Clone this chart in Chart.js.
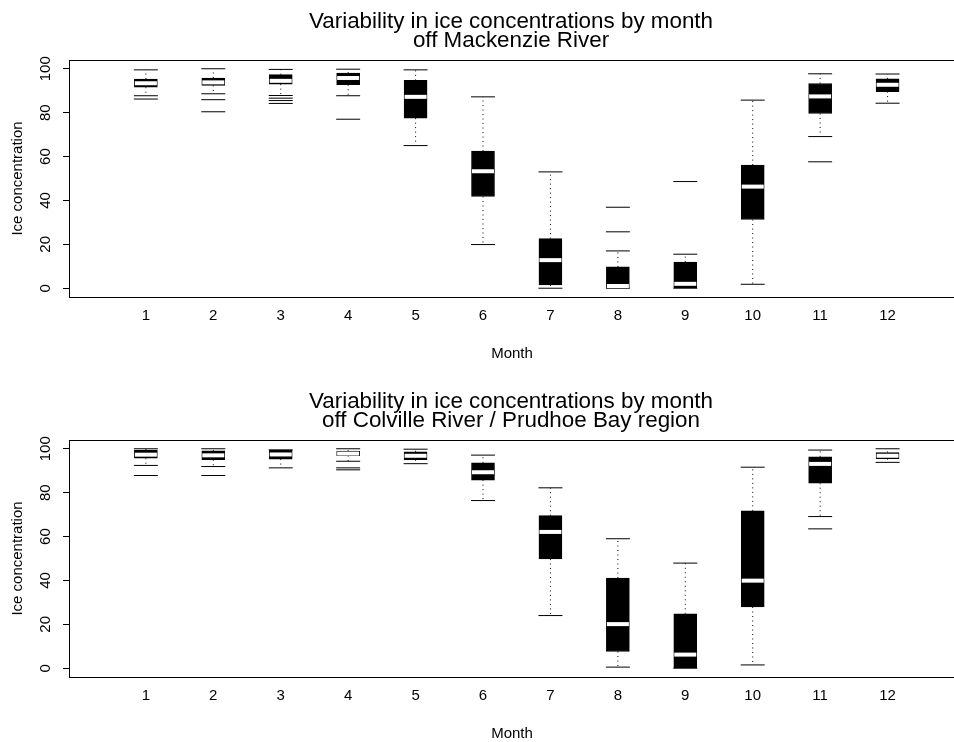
<!DOCTYPE html>
<html><head><meta charset="utf-8">
<script src="https://cdn.jsdelivr.net/npm/chart.js@4"></script>
<style>
html,body{margin:0;padding:0;overflow:hidden;background:#fff;width:954px;height:742px;position:relative}
canvas{position:absolute;left:0}
#c1{top:0}#c2{top:380px}
</style></head>
<body>
<canvas id="c1" width="1020" height="380"></canvas>
<canvas id="c2" width="1020" height="380"></canvas>
<script>
// ---------- data ----------
const months = [1,2,3,4,5,6,7,8,9,10,11,12];
const xTickLabels = ['1','2','3','4','5','6','7','8','9','10','11','12'];
const yTicks = [0,20,40,60,80,100];
const xTitle = 'Month';
const yTitle = 'Ice concentration';

const titleMack = ['Variability in ice concentrations by month','off Mackenzie River'];
const mackUpper  = [99.5, 100, 99.7, 99.8, 99.5, 87.2, 53.0, 17.0, 15.5, 85.7, 97.7, 97.6];
const mackQ3     = [95.3, 95.8, 97.3, 98.0, 94.7, 62.5, 22.6,  9.7, 11.9, 56.1, 93.3, 95.4];
const mackMedian = [93.4, 93.8, 94.5, 95.8, 87.2, 53.3, 12.8,  1.0,  2.0, 46.3, 87.4, 92.7];
const mackQ1     = [91.6, 92.4, 93.0, 92.7, 77.5, 41.8,  1.5,  0.0,  0.0, 31.3, 79.6, 89.6];
const mackLower  = [87.7, 88.6, 87.8, 87.7, 65.0, 19.9,  0.0,  0.0,  0.0,  1.8, 69.1, 84.3];
const mackOutMonth = [1, 2, 2, 3, 3, 3, 4, 8, 8, 9, 11];
const mackOutValue = [86.2, 85.9, 80.4, 86.6, 85.5, 84.2, 77.0, 25.7, 36.9, 48.6, 57.6];

const titleColv = ['Variability in ice concentrations by month','off Colville River / Prudhoe Bay region'];
const colvUpper  = [100, 100, 99.5, 100, 99.8, 97.1, 82.2, 59.0, 47.9, 91.6, 99.4, 100];
const colvQ3     = [99.4, 99.0, 99.3, 98.9, 98.6, 93.6, 69.5, 41.1, 24.8, 71.7, 96.3, 98.3];
const colvMedian = [97.3, 97.0, 97.4, 97.8, 96.8, 89.3, 62.1, 20.1,  6.2, 39.9, 93.1, 96.8];
const colvQ1     = [95.7, 95.0, 95.3, 96.9, 95.0, 85.7, 49.8,  7.6,  0.0, 27.9, 84.3, 95.5];
const colvLower  = [92.4, 91.9, 91.3, 94.3, 93.2, 76.4, 24.0,  0.5,  0.0,  1.5, 69.1, 93.8];
const colvOutMonth = [1, 2, 4, 4, 11];
const colvOutValue = [87.8, 87.8, 91.3, 90.4, 63.5];

// ---------- drawing ----------
const FONT = "'Liberation Sans', Arial, sans-serif";

const framePlugin = {
  id: 'frame',
  afterDraw(chart) {
    const {ctx, chartArea: a, scales} = chart;
    ctx.save();
    ctx.strokeStyle = '#000';
    ctx.lineWidth = 1;
    ctx.strokeRect(Math.round(a.left) + 0.5, Math.round(a.top) + 0.5,
                   Math.round(a.right - a.left), Math.round(a.bottom - a.top));
    const ys = scales.y;
    ctx.fillStyle = '#000';
    ctx.textAlign = 'center';
    ctx.textBaseline = 'middle';
    // rotated y tick labels (parallel to axis, like R)
    ctx.font = '15px ' + FONT;
    ys.ticks.forEach(t => {
      const py = ys.getPixelForValue(t.value);
      ctx.save();
      ctx.translate(46, py);
      ctx.rotate(-Math.PI / 2);
      ctx.fillText(String(t.value), 0, 0);
      ctx.restore();
    });
    // y axis title
    ctx.save();
    ctx.translate(18, (a.top + a.bottom) / 2);
    ctx.rotate(-Math.PI / 2);
    ctx.fillText(yTitle, 0, 0);
    ctx.restore();
    ctx.restore();
  }
};

function makeChart(id, title, upper, q3, med, q1, lower, outM, outV) {
  const boxes = months.map((m, i) => ({x: m, y: [q1[i], q3[i]]}));
  const medians = months.map((m, i) => ({x: m, y: med[i]}));
  const caps = [];
  months.forEach((m, i) => { caps.push({x: m, y: upper[i]}); caps.push({x: m, y: lower[i]}); });
  const whiskers = [];
  months.forEach((m, i) => {
    whiskers.push({x: m, y: q3[i]}, {x: m, y: upper[i]}, {x: m, y: null});
    whiskers.push({x: m, y: q1[i]}, {x: m, y: lower[i]}, {x: m, y: null});
  });
  const outliers = outM.map((m, i) => ({x: m, y: outV[i]}));

  return new Chart(document.getElementById(id), {
    type: 'bar',
    data: {
      datasets: [
        {type: 'scatter', data: medians, pointStyle: 'line', pointRadius: 11, pointHoverRadius: 11,
         borderColor: '#fff', pointBorderColor: '#fff', borderWidth: 4, pointBorderWidth: 4, order: 1},
        {type: 'scatter', data: caps, pointStyle: 'line', pointRadius: 12, pointHoverRadius: 12,
         borderColor: '#000', pointBorderColor: '#000', pointBorderWidth: 1, order: 2},
        {type: 'scatter', data: outliers, pointStyle: 'line', pointRadius: 12, pointHoverRadius: 12,
         borderColor: '#000', pointBorderColor: '#000', pointBorderWidth: 1, order: 2},
        {type: 'line', data: whiskers, borderColor: '#000', borderWidth: 1, borderDash: [1, 3.5],
         pointRadius: 0, spanGaps: false, fill: false, order: 3},
        {type: 'bar', data: boxes, backgroundColor: '#000', borderColor: '#000', borderWidth: 1,
         borderSkipped: false, barThickness: 23, grouped: false, order: 4}
      ]
    },
    options: {
      responsive: false,
      animation: false,
      events: [],
      layout: {padding: {left: 67, right: 65, top: 0, bottom: 0}},
      plugins: {
        legend: {display: false},
        tooltip: {enabled: false},
        title: {
          display: true, text: title, color: '#000',
          font: {family: FONT, size: 22.4, weight: 'normal', lineHeight: 0.87},
          padding: {top: 12, bottom: 9}
        }
      },
      scales: {
        x: {
          type: 'linear', min: -0.14, max: 13.0, offset: false,
          afterBuildTicks: s => { s.ticks = months.map(v => ({value: v})); },
          afterFit: s => { s.height = 83; },
          ticks: {color: '#000', font: {family: FONT, size: 15}, padding: 10,
                  callback: v => xTickLabels[months.indexOf(v)], maxRotation: 0, autoSkip: false},
          grid: {display: false, drawTicks: false},
          border: {display: false},
          title: {display: true, text: xTitle, color: '#000', font: {family: FONT, size: 15},
                  padding: {top: 0, bottom: 17}}
        },
        y: {
          min: -4, max: 104,
          afterBuildTicks: s => { s.ticks = yTicks.map(v => ({value: v})); },
          afterFit: s => { s.width = 2; },
          ticks: {display: false},
          grid: {display: true, drawOnChartArea: false, drawTicks: true, tickLength: 6, color: '#000', lineWidth: 1},
          border: {display: false},
          title: {display: false}
        }
      }
    },
    plugins: [framePlugin]
  });
}

makeChart('c1', titleMack, mackUpper, mackQ3, mackMedian, mackQ1, mackLower, mackOutMonth, mackOutValue);
makeChart('c2', titleColv, colvUpper, colvQ3, colvMedian, colvQ1, colvLower, colvOutMonth, colvOutValue);
</script>
</body></html>
